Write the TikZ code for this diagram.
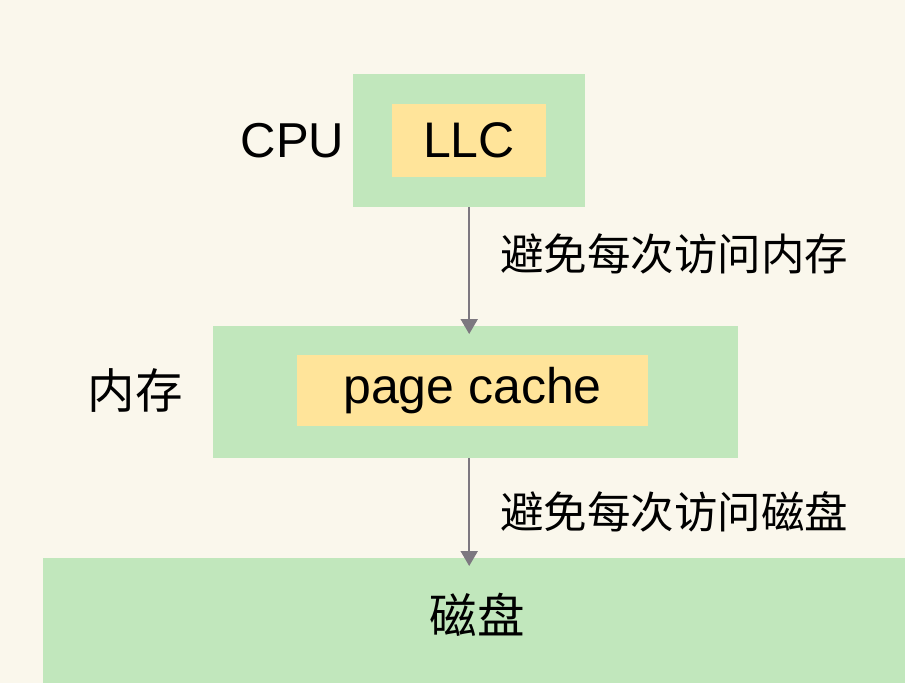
\documentclass[tikz,border=0pt]{standalone}
\usepackage{fontspec}
\setmainfont{Liberation Sans}
\newfontfamily\cjk{Noto Sans CJK SC}
\usetikzlibrary{arrows.meta}
\definecolor{bgc}{HTML}{FAF7EC}
\definecolor{boxgreen}{HTML}{C1E7BC}
\definecolor{boxyellow}{HTML}{FFE49A}
\definecolor{arrowgray}{HTML}{7D7880}
\tikzset{
  x=1pt, y=-1pt,
  outerbox/.style={fill=boxgreen, draw=none, inner sep=0pt, anchor=north west},
  innerbox/.style={fill=boxyellow, draw=none, inner sep=0pt, font=\fontsize{50}{58}\selectfont},
  latinlabel/.style={inner sep=0pt, font=\fontsize{49}{57}\selectfont},
  cjkbig/.style={inner sep=0pt, font=\cjk\fontsize{47.5}{56}\selectfont},
  cjklabel/.style={inner sep=0pt, font=\cjk\fontsize{43.5}{52}\selectfont},
  arr/.style={draw=arrowgray, line width=2pt, -{Triangle[length=15pt,width=17pt]}, shorten >=-8pt}
}
\begin{document}
\begin{tikzpicture}
\fill[bgc] (0,0) rectangle (905,683);
\useasboundingbox (0,0) rectangle (905,683);
% CPU
\node[outerbox, minimum width=232pt, minimum height=133pt] (cpu) at (353,74) {};
\node[innerbox, minimum width=154pt, minimum height=73pt] (llc) at (469,140.5) {LLC};
\node[latinlabel] (cpulbl) at (292.5,140.5) {CPU};
% memory
\node[outerbox, minimum width=525pt, minimum height=132pt] (mem) at (213,326) {};
\node[innerbox, minimum width=351pt, minimum height=71pt] (pc) at (472.5,390.5) {page cache};
\node[cjkbig] (memlbl) at (135,390) {内存};
% disk
\node[outerbox, minimum width=862pt, minimum height=125pt] (disk) at (43,558) {};
\node[cjkbig] (disklbl) at (477,615) {磁盘};
% arrows
\draw[arr] (cpu.south) -- (cpu.south |- mem.north);
\draw[arr] (cpu.south |- mem.south) -- (cpu.south |- disk.north);
% labels
\node[cjklabel, anchor=west] (l1) at (500,254) {避免每次访问内存};
\node[cjklabel, anchor=west] (l2) at (500,512) {避免每次访问磁盘};
\end{tikzpicture}
\end{document}
